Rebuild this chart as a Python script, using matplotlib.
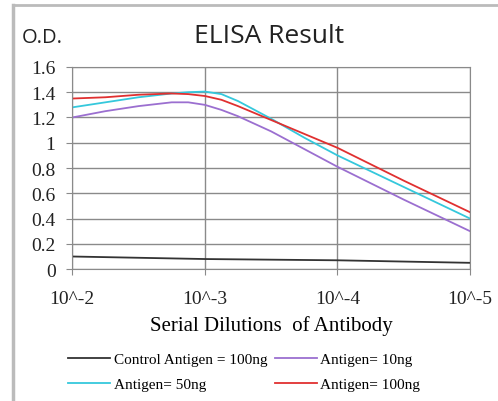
import matplotlib.pyplot as plt
from matplotlib.lines import Line2D

# dilution positions (0 = 10^-2 ... 3 = 10^-5)
x_pos = [0, 0.25, 0.5, 0.75, 0.875, 1, 1.125, 1.25, 1.5, 1.75, 2, 2.5, 3]
control_x = [0, 1, 2, 3]
control = [0.10, 0.08, 0.07, 0.05]
ag10 = [1.20, 1.25, 1.29, 1.32, 1.32, 1.30, 1.26, 1.21, 1.09, 0.95, 0.81, 0.55, 0.30]
ag50 = [1.28, 1.32, 1.36, 1.39, 1.40, 1.405, 1.385, 1.33, 1.19, 1.04, 0.90, 0.65, 0.40]
ag100 = [1.35, 1.36, 1.38, 1.39, 1.385, 1.37, 1.34, 1.29, 1.18, 1.07, 0.96, 0.70, 0.45]
tick_labels = ['10^-2', '10^-3', '10^-4', '10^-5']
y_ticks = [0, 0.2, 0.4, 0.6, 0.8, 1, 1.2, 1.4, 1.6]
y_labels = ['0', '0.2', '0.4', '0.6', '0.8', '1', '1.2', '1.4', '1.6']

serif = 'Liberation Serif'

fig = plt.figure(figsize=(4.98, 4.02), dpi=100)
ax = fig.add_axes([0.145, 0.328, 0.799, 0.503])

ax.plot(control_x, control, color='#333333', lw=1.3)
ax.plot(x_pos, ag10, color='#9b6fd0', lw=1.3)
ax.plot(x_pos, ag50, color='#35c8dc', lw=1.3)
ax.plot(x_pos, ag100, color='#e03030', lw=1.3)

ax.set_xlim(0, 3)
ax.set_ylim(0, 1.6)
ax.set_xticks(range(4))
ax.set_xticklabels(tick_labels, fontfamily=serif, fontsize=14)
ax.set_yticks(y_ticks)
ax.set_yticklabels(y_labels, fontfamily=serif, fontsize=14)
ax.grid(True, color='#8a8a8a', lw=1)
ax.set_axisbelow(True)
for s in ax.spines.values():
    s.set_color('#8a8a8a')
ax.tick_params(colors='#8a8a8a', labelcolor='#222222', length=4)
ax.tick_params(axis='x', pad=11)
ax.tick_params(axis='y', pad=8)

ax.set_xlabel('Serial Dilutions  of Antibody', fontfamily=serif, fontsize=15, labelpad=6)

fig.text(0.54, 0.91, 'ELISA Result', ha='center', va='center', fontsize=19,
         fontfamily='Open Sans', color='#222222')
fig.text(0.044, 0.905, 'O.D.', ha='left', va='center', fontsize=14.5,
         fontfamily='Open Sans', color='#222222')

handles = [Line2D([], [], color=c, lw=1.3) for c in ['#333333', '#35c8dc', '#9b6fd0', '#e03030']]
names = ['Control Antigen = 100ng', 'Antigen= 50ng', 'Antigen= 10ng', 'Antigen= 100ng']
fig.legend(handles, names, ncol=2, loc='center', bbox_to_anchor=(0.49, 0.073),
           frameon=False, prop={'family': serif, 'size': 11}, handlelength=2.8,
           handletextpad=0.2, columnspacing=0.5, labelspacing=0.75)

# outer frame of the image
fig.add_artist(Line2D([0.026, 0.026], [0, 0.985], color='#bbbbbb', lw=2.5, transform=fig.transFigure))
fig.add_artist(Line2D([0.026, 1], [0.985, 0.985], color='#bbbbbb', lw=2, transform=fig.transFigure))

fig.savefig('out.png', dpi=100)
